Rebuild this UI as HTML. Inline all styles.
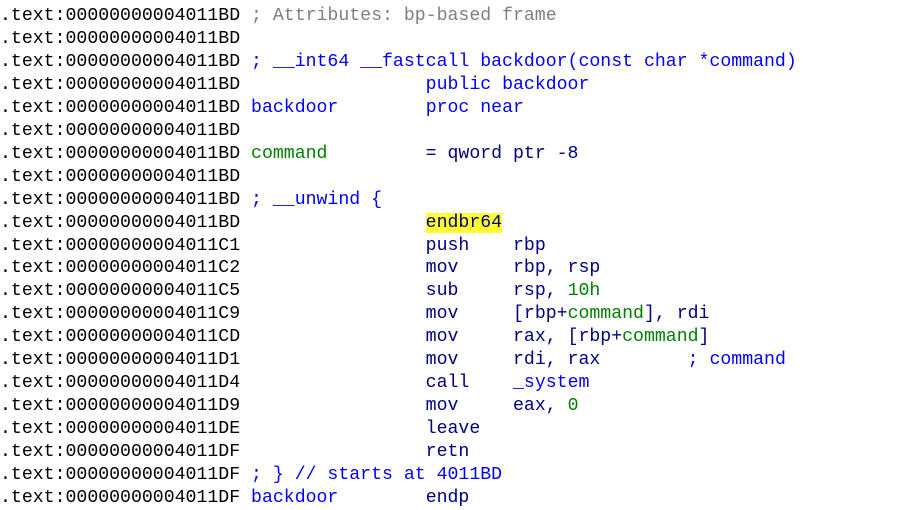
<!DOCTYPE html>
<html><head><meta charset="utf-8"><style>
body{margin:0;background:#fff;width:898px;height:507px;overflow:hidden}
pre{margin:0;position:absolute;left:0;top:5px;font-family:"Liberation Mono",monospace;font-size:18.2px;line-height:22.95px;color:#000}
.g{color:#808080}.b{color:#0000ff}.n{color:#000080}.gr{color:#008000}.y{background:#ffff33}
</style></head><body><pre>.text:00000000004011BD <span class="g">; Attributes: bp-based frame</span>
.text:00000000004011BD
.text:00000000004011BD <span class="b">; __int64 __fastcall backdoor(const char *command)</span>
.text:00000000004011BD                 <span class="b">public backdoor</span>
.text:00000000004011BD <span class="b">backdoor</span>        <span class="b">proc near</span>
.text:00000000004011BD
.text:00000000004011BD <span class="gr">command</span>         <span class="n">= qword ptr -8</span>
.text:00000000004011BD
.text:00000000004011BD <span class="b">; __unwind {</span>
.text:00000000004011BD                 <span class="n y">endbr64</span>
.text:00000000004011C1                 <span class="n">push    rbp</span>
.text:00000000004011C2                 <span class="n">mov     rbp, rsp</span>
.text:00000000004011C5                 <span class="n">sub     rsp, <span class="gr">10h</span></span>
.text:00000000004011C9                 <span class="n">mov     [rbp+<span class="gr">command</span>], rdi</span>
.text:00000000004011CD                 <span class="n">mov     rax, [rbp+<span class="gr">command</span>]</span>
.text:00000000004011D1                 <span class="n">mov     rdi, rax</span>        <span class="b">; command</span>
.text:00000000004011D4                 <span class="n">call    <span class="b">_system</span></span>
.text:00000000004011D9                 <span class="n">mov     eax, <span class="gr">0</span></span>
.text:00000000004011DE                 <span class="n">leave</span>
.text:00000000004011DF                 <span class="n">retn</span>
.text:00000000004011DF <span class="b">; } // starts at 4011BD</span>
.text:00000000004011DF <span class="b">backdoor</span>        <span class="n">endp</span>
</pre></body></html>
